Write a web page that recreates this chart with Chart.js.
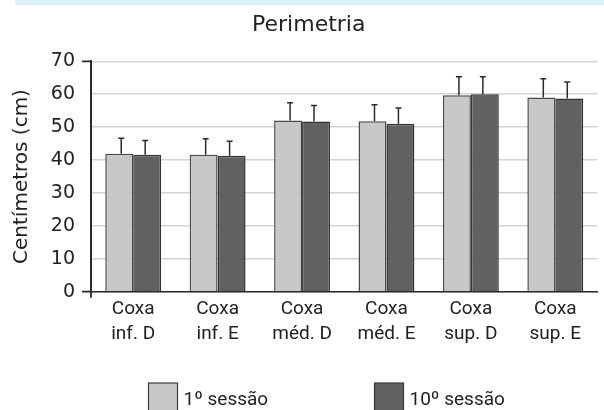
<!DOCTYPE html>
<html>
<head>
<meta charset="utf-8">
<script src="https://cdn.jsdelivr.net/npm/chart.js@4.4.1/dist/chart.umd.min.js"></script>
<style>
  html, body { margin: 0; padding: 0; background: #fff; }
  #wrap { width: 604px; height: 410px; position: relative; }
</style>
</head>
<body>
<div id="wrap"><canvas id="chart" width="604" height="410"></canvas></div>
<script>
// data
const categories = [
  ['Coxa', 'inf. D'], ['Coxa', 'inf. E'], ['Coxa', 'méd. D'],
  ['Coxa', 'méd. E'], ['Coxa', 'sup. D'], ['Coxa', 'sup. E']
];
const seriesNames = ['1º sessão', '10º sessão'];
const session1 = [41.9, 41.6, 52.0, 51.8, 59.7, 59.0];
const session10 = [41.6, 41.3, 51.7, 51.0, 60.0, 58.7];
const session1Sd = [4.7, 4.9, 5.4, 5.0, 5.6, 5.7];
const session10Sd = [4.3, 4.4, 4.9, 4.8, 5.3, 5.0];
const yTicks = [0, 10, 20, 30, 40, 50, 60, 70];

const lightGray = '#c7c8ca';
const darkGray = '#606163';
const inkColor = '#2b2b2b';
const narrowFont = 'Roboto, "Liberation Sans", sans-serif';

// error bars (upper half only), plus the little axis extras
const extrasPlugin = {
  id: 'extras',
  beforeDraw(chart) {
    const ctx = chart.ctx;
    ctx.save();
    ctx.fillStyle = '#dff1f9';
    ctx.fillRect(15, 0, chart.width - 15, 5);
    ctx.restore();
  },
  afterDatasetsDraw(chart) {
    const ctx = chart.ctx;
    const y = chart.scales.y;
    const sds = [session1Sd, session10Sd];
    const shift = [2, -2];
    ctx.save();
    ctx.strokeStyle = inkColor;
    ctx.lineWidth = 1.5;
    chart.data.datasets.forEach((ds, i) => {
      const meta = chart.getDatasetMeta(i);
      meta.data.forEach((bar, j) => {
        const x = bar.x + shift[i];
        const top = y.getPixelForValue(ds.data[j] + sds[i][j]);
        ctx.beginPath();
        ctx.moveTo(x, bar.y);
        ctx.lineTo(x, top);
        ctx.moveTo(x - 3, top);
        ctx.lineTo(x + 3, top);
        ctx.stroke();
      });
    });
    ctx.restore();
  },
  afterDraw(chart) {
    const ctx = chart.ctx;
    const area = chart.chartArea;
    ctx.save();
    // ticks at 0 and 70, axis stub below 0
    ctx.strokeStyle = inkColor;
    ctx.lineWidth = 1.8;
    ctx.beginPath();
    ctx.moveTo(area.left - 9, area.top);
    ctx.lineTo(area.left, area.top);
    ctx.moveTo(area.left - 9, area.bottom);
    ctx.lineTo(area.left, area.bottom);
    ctx.moveTo(area.left, area.bottom);
    ctx.lineTo(area.left, area.bottom + 6);
    ctx.stroke();

    // legend
    const items = [
      { x: 148.5, color: lightGray, text: seriesNames[0] },
      { x: 374.5, color: darkGray, text: seriesNames[1] }
    ];
    ctx.font = '19px ' + narrowFont;
    ctx.textBaseline = 'alphabetic';
    items.forEach(item => {
      ctx.fillStyle = item.color;
      ctx.fillRect(item.x, 383, 29, 28);
      ctx.strokeStyle = '#3a3a3a';
      ctx.lineWidth = 1.2;
      ctx.strokeRect(item.x, 383, 29, 28);
      ctx.fillStyle = '#222';
      ctx.fillText(item.text, item.x + 35, 405);
    });
    ctx.restore();
  }
};

new Chart(document.getElementById('chart').getContext('2d'), {
  type: 'bar',
  data: {
    labels: categories,
    datasets: [
      {
        label: seriesNames[0],
        data: session1,
        backgroundColor: lightGray,
        borderColor: '#4a4a4a',
        borderWidth: 1.5
      },
      {
        label: seriesNames[1],
        data: session10,
        backgroundColor: darkGray,
        borderColor: '#333',
        borderWidth: 1.5
      }
    ]
  },
  options: {
    responsive: false,
    animation: false,
    layout: { padding: { left: 20, right: 6.5, top: 0, bottom: 0 } },
    datasets: { bar: { categoryPercentage: 0.662, barPercentage: 1 } },
    scales: {
      x: {
        grid: { display: false, drawTicks: false },
        border: { display: true, color: inkColor, width: 1.5 },
        ticks: {
          color: '#222',
          padding: 5,
          maxRotation: 0,
          font: { family: narrowFont, size: 19, lineHeight: 1.32 }
        },
        afterFit(axis) { axis.height = 118.3; }
      },
      y: {
        min: 0,
        max: 70,
        afterBuildTicks(axis) { axis.ticks = yTicks.map(v => ({ value: v })); },
        grid: { color: '#d3d3d3', lineWidth: 1.5, drawTicks: false },
        border: { display: true, color: inkColor, width: 2 },
        ticks: {
          color: '#222',
          padding: 16,
          font: { family: '"DejaVu Sans", sans-serif', size: 19 }
        },
        title: {
          display: true,
          text: 'Centímetros (cm)',
          color: '#222',
          padding: { top: -10, bottom: 0 },
          font: { family: '"DejaVu Sans", sans-serif', size: 20 }
        },
        afterFit(axis) { axis.width = 71; }
      }
    },
    plugins: {
      legend: { display: false },
      tooltip: { enabled: false },
      title: {
        display: true,
        text: 'Perimetria',
        color: '#222',
        padding: { top: 12, bottom: 22.9 },
        font: { family: '"DejaVu Sans", sans-serif', size: 22, weight: 'normal' }
      }
    }
  },
  plugins: [extrasPlugin]
});
</script>
</body>
</html>
